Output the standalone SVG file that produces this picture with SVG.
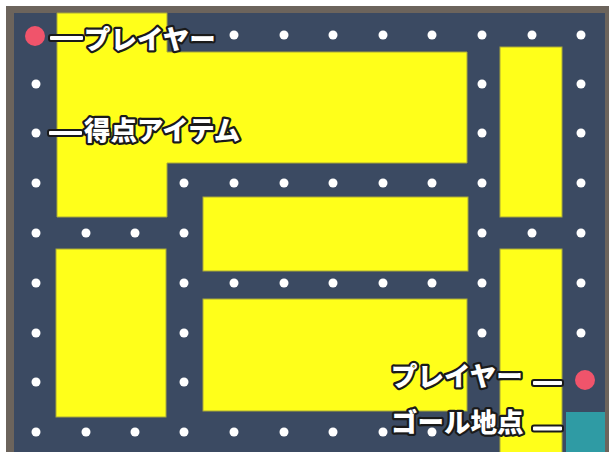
<svg xmlns="http://www.w3.org/2000/svg" width="609" height="452" viewBox="0 0 609 452">
<style>
.wall{fill:#ffff1a;stroke:#a9a83a;stroke-width:1}
.dot{fill:#ffffff}
.player{fill:#f0546b}
.lbl{font-family:"Noto Sans CJK JP","Noto Sans",sans-serif;font-weight:900;font-size:26.5px;fill:#ffffff;stroke:#1a1a1a;stroke-width:4.5;stroke-linejoin:round;paint-order:stroke}
.lead{fill:#ffffff;stroke:#1a1a1a;stroke-width:2}
</style>
<rect x="0" y="0" width="609" height="452" fill="#ffffff"/>
<rect x="6" y="6" width="603" height="446" fill="#6c645c"/>
<rect x="14" y="13" width="591" height="439" fill="#3b4a62"/>
<g id="walls">
<path class="wall" d="M57 13H167V52H467V163H167V217H57Z"/>
<rect class="wall" x="500" y="47" width="62" height="170"/>
<rect class="wall" x="203" y="197" width="265" height="74"/>
<rect class="wall" x="56" y="249" width="110" height="168"/>
<rect class="wall" x="203" y="299" width="264" height="112"/>
<rect class="wall" x="500" y="249" width="62" height="210"/>
</g>
<g id="goal"><rect x="566" y="412" width="39" height="40" fill="#2f9ba4"/></g>
<g id="items">
<circle class="dot" cx="234" cy="35" r="4.5"/><circle class="dot" cx="284" cy="35" r="4.5"/><circle class="dot" cx="333" cy="35" r="4.5"/><circle class="dot" cx="383" cy="35" r="4.5"/><circle class="dot" cx="432" cy="35" r="4.5"/><circle class="dot" cx="482" cy="35" r="4.5"/><circle class="dot" cx="532" cy="35" r="4.5"/><circle class="dot" cx="581" cy="35" r="4.5"/>
<circle class="dot" cx="36" cy="84" r="4.5"/><circle class="dot" cx="482" cy="84" r="4.5"/><circle class="dot" cx="581" cy="84" r="4.5"/>
<circle class="dot" cx="36" cy="133" r="4.5"/><circle class="dot" cx="482" cy="133" r="4.5"/><circle class="dot" cx="581" cy="133" r="4.5"/>
<circle class="dot" cx="36" cy="183" r="4.5"/><circle class="dot" cx="184" cy="183" r="4.5"/><circle class="dot" cx="234" cy="183" r="4.5"/><circle class="dot" cx="284" cy="183" r="4.5"/><circle class="dot" cx="333" cy="183" r="4.5"/><circle class="dot" cx="383" cy="183" r="4.5"/><circle class="dot" cx="432" cy="183" r="4.5"/><circle class="dot" cx="482" cy="183" r="4.5"/><circle class="dot" cx="581" cy="183" r="4.5"/>
<circle class="dot" cx="36" cy="233" r="4.5"/><circle class="dot" cx="86" cy="233" r="4.5"/><circle class="dot" cx="135" cy="233" r="4.5"/><circle class="dot" cx="184" cy="233" r="4.5"/><circle class="dot" cx="482" cy="233" r="4.5"/><circle class="dot" cx="532" cy="233" r="4.5"/><circle class="dot" cx="581" cy="233" r="4.5"/>
<circle class="dot" cx="36" cy="283" r="4.5"/><circle class="dot" cx="184" cy="283" r="4.5"/><circle class="dot" cx="234" cy="283" r="4.5"/><circle class="dot" cx="284" cy="283" r="4.5"/><circle class="dot" cx="333" cy="283" r="4.5"/><circle class="dot" cx="383" cy="283" r="4.5"/><circle class="dot" cx="432" cy="283" r="4.5"/><circle class="dot" cx="482" cy="283" r="4.5"/><circle class="dot" cx="581" cy="283" r="4.5"/>
<circle class="dot" cx="36" cy="333" r="4.5"/><circle class="dot" cx="184" cy="333" r="4.5"/><circle class="dot" cx="482" cy="333" r="4.5"/><circle class="dot" cx="581" cy="333" r="4.5"/>
<circle class="dot" cx="36" cy="382" r="4.5"/><circle class="dot" cx="184" cy="382" r="4.5"/>
<circle class="dot" cx="36" cy="432" r="4.5"/><circle class="dot" cx="86" cy="432" r="4.5"/><circle class="dot" cx="135" cy="432" r="4.5"/><circle class="dot" cx="184" cy="432" r="4.5"/><circle class="dot" cx="234" cy="432" r="4.5"/><circle class="dot" cx="284" cy="432" r="4.5"/><circle class="dot" cx="333" cy="432" r="4.5"/><circle class="dot" cx="383" cy="432" r="4.5"/><circle class="dot" cx="432" cy="432" r="4.5"/>
</g>
<g id="player-start"><circle class="player" cx="35" cy="36" r="10"/></g>
<g id="player-end"><circle class="player" cx="585" cy="380" r="10"/></g>
<g id="connectors">
<rect class="lead" x="49" y="35" width="35" height="6" rx="2"/>
<rect class="lead" x="48" y="130" width="35" height="6" rx="2"/>
<rect class="lead" x="532" y="380" width="31" height="6" rx="2"/>
<rect class="lead" x="532" y="425.5" width="31" height="6" rx="2"/>
</g>
<g id="label-player-top"><text class="lbl" x="84" y="49">プレイヤー</text></g>
<g id="label-item"><text class="lbl" x="84" y="140">得点アイテム</text></g>
<g id="label-player-bottom"><text class="lbl" x="391" y="386">プレイヤー</text></g>
<g id="label-goal"><text class="lbl" x="391" y="432">ゴール地点</text></g>
</svg>
